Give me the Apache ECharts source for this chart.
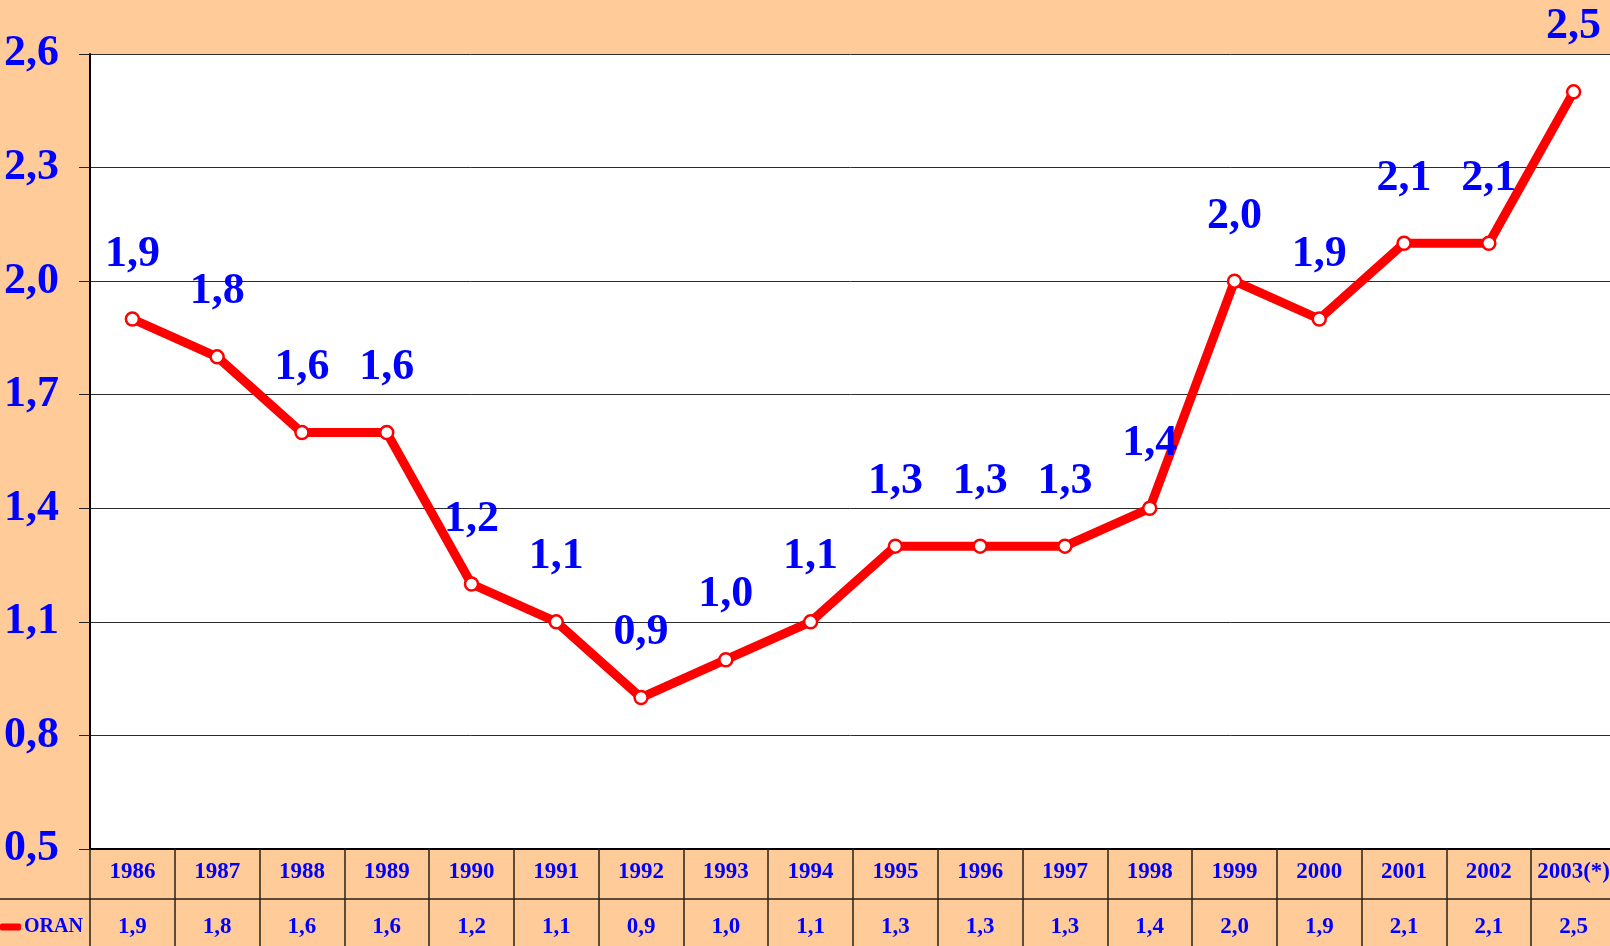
<!DOCTYPE html>
<html>
<head>
<meta charset="utf-8">
<script src="https://cdn.jsdelivr.net/npm/echarts@6/dist/echarts.min.js"></script>
<style>
html,body{margin:0;padding:0;background:#FFCC99;}
#chart{width:1610px;height:946px;}
</style>
</head>
<body>
<div id="chart"></div>
<script>
const years = ['1986','1987','1988','1989','1990','1991','1992','1993','1994','1995','1996','1997','1998','1999','2000','2001','2002','2003(*)'];
const oran = [1.9,1.8,1.6,1.6,1.2,1.1,0.9,1.0,1.1,1.3,1.3,1.3,1.4,2.0,1.9,2.1,2.1,2.5];
const yTicks = [0.5,0.8,1.1,1.4,1.7,2.0,2.3,2.6];
const seriesName = 'ORAN';

const fmt = v => Number(v).toFixed(1).replace('.', ',');
const FONT = 'Liberation Serif';
const BLUE = '#0000FF';

const chart = echarts.init(document.getElementById('chart'));
chart.setOption({
  backgroundColor: '#FFCC99',
  animation: false,
  grid: { left: 90, right: -6, top: 54, bottom: 97, outerBoundsMode: 'none', containLabel: false, show: true, backgroundColor: '#FFFFFF', borderWidth: 0 },
  legend: {
    data: [{ name: seriesName, icon: 'roundRect', itemStyle: { color: '#FF0000', borderWidth: 0 } }],
    left: 0, top: 917, padding: 0,
    itemWidth: 21, itemHeight: 7, itemGap: 4,
    textStyle: { fontFamily: FONT, fontWeight: 'bold', fontSize: 20, color: BLUE, padding: [0,0,0,-2] }
  },
  xAxis: [{
    type: 'category',
    data: years,
    boundaryGap: true,
    axisLine: { show: true, lineStyle: { color: '#000000', width: 2 } },
    axisTick: { show: true, inside: false, length: 97, interval: 0, lineStyle: { color: '#2a2015', width: 1.5 } },
    axisLabel: { interval: 0, margin: 11, fontFamily: FONT, fontWeight: 'bold', fontSize: 23, lineHeight: 24, color: BLUE },
    splitLine: { show: false }
  }, {
    type: 'category',
    position: 'bottom',
    offset: 50,
    data: oran.map(fmt),
    boundaryGap: true,
    axisLine: { show: false },
    axisTick: { show: false },
    axisLabel: { interval: 0, margin: 16, fontFamily: FONT, fontWeight: 'bold', fontSize: 23, lineHeight: 24, color: BLUE },
    splitLine: { show: false }
  }],
  yAxis: {
    type: 'value',
    min: 0.5, max: 2.6,
    axisLine: { show: true, lineStyle: { color: '#000000', width: 2 } },
    axisTick: { show: true, inside: false, length: 11, customValues: yTicks, lineStyle: { color: '#222222', width: 1 } },
    axisLabel: { customValues: yTicks, margin: 31, fontFamily: FONT, fontWeight: 'bold', fontSize: 44, color: BLUE, formatter: fmt },
    splitLine: { show: true, lineStyle: { color: '#2b2b2b', width: 1 } }
  },
  graphic: [{
    type: 'line', silent: true, z: 10,
    shape: { x1: 0, y1: 899, x2: 1610, y2: 899 },
    style: { stroke: '#2a2015', lineWidth: 1.5 }
  }],
  series: [{
    name: seriesName,
    type: 'line',
    data: oran,
    xAxisIndex: 0,
    symbol: 'circle',
    symbolSize: 13,
    lineStyle: { color: '#FF0000', width: 9 },
    itemStyle: { color: '#FFFFFF', borderColor: '#FF0000', borderWidth: 2.5 },
    label: { show: true, position: 'top', distance: 35, fontFamily: FONT, fontWeight: 'bold', fontSize: 44, color: BLUE, formatter: p => fmt(p.value) },
    z: 5
  }]
});
</script>
</body>
</html>
